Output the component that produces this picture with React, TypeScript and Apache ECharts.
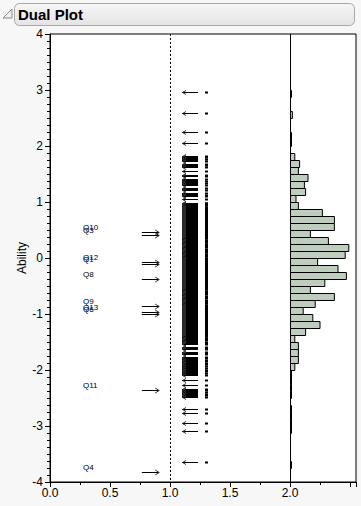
import React, { useEffect, useRef } from "react";
import * as echarts from "echarts";

// ---- data ----
const itemNames = ["Q10", "Q3", "Q12", "Q1", "Q8", "Q9", "Q13", "Q6", "Q11", "Q4"];
const itemDifficulty = [0.45, 0.41, -0.08, -0.12, -0.38, -0.87, -0.97, -1.005, -2.37, -3.83];

const personAbility = [
  2.95, 2.58, 2.24, 2.05,
  1.82, 1.79, 1.76, 1.73, 1.67, 1.65, 1.62, 1.54, 1.48, 1.45, 1.40, 1.36, 1.33,
  1.29, 1.25, 1.21, 1.16, 1.12, 1.10, 1.05,
  0.98, 0.97, 0.95, 0.93, 0.91, 0.90, 0.88, 0.86, 0.84, 0.83, 0.81, 0.79, 0.77,
  0.76, 0.74, 0.72, 0.70, 0.69, 0.67, 0.65, 0.63, 0.62, 0.60, 0.58, 0.56, 0.55,
  0.53, 0.51, 0.49, 0.48, 0.46, 0.44, 0.42, 0.41, 0.39, 0.37, 0.35, 0.34, 0.32,
  0.30, 0.28, 0.27, 0.25, 0.23, 0.21, 0.20, 0.18, 0.16, 0.14, 0.13, 0.11, 0.09,
  0.07, 0.06, 0.04, 0.02, 0.00, -0.01, -0.03, -0.05, -0.07, -0.08, -0.10, -0.12,
  -0.14, -0.15, -0.17, -0.19, -0.21, -0.22, -0.24, -0.26, -0.28, -0.29, -0.31,
  -0.33, -0.35, -0.36, -0.38, -0.40, -0.42, -0.43, -0.45, -0.47, -0.49, -0.50,
  -0.52, -0.54, -0.56, -0.57, -0.59, -0.61, -0.63, -0.64, -0.66, -0.68, -0.70,
  -0.71, -0.73, -0.75, -0.77, -0.78, -0.80, -0.82, -0.84, -0.85, -0.87, -0.89,
  -0.91, -0.92, -0.94, -0.96, -0.98, -0.99, -1.01, -1.03, -1.05, -1.06, -1.08,
  -1.10, -1.12, -1.13, -1.15, -1.17, -1.19, -1.20, -1.22, -1.24, -1.26, -1.27,
  -1.29, -1.31, -1.33, -1.34, -1.36, -1.38, -1.40, -1.41, -1.43, -1.45, -1.47,
  -1.50, -1.53, -1.55, -1.59, -1.61, -1.64, -1.68, -1.71, -1.73, -1.77, -1.80,
  -1.83, -1.85, -1.88, -1.90, -1.93, -1.97, -2.00, -2.03, -2.06, -2.09,
  -2.18, -2.27, -2.34, -2.37, -2.40, -2.43, -2.46, -2.49,
  -2.70, -2.77, -2.95, -3.10, -3.66,
];

// histogram: counts per 0.125-wide bin, from the bin starting at -3.75 upward
const histStart = -3.75;
const histBinWidth = 0.125;
const histCountUnit = 0.01; // x-axis units per count
const histCounts = [
  1, 0, 0, 0, 0, 1, 1, 1, 1, 0,
  1, 1, 1, 1, 4, 7, 7, 7, 4, 13,
  25, 19, 11, 21, 37, 17, 29, 47, 40, 23,
  46, 49, 32, 17, 37, 37, 27, 7, 5, 13,
  12, 15, 7, 8, 4, 0, 1, 1, 0, 0,
  2, 0, 0, 1,
];

const xTickLabels = ["0.0", "0.5", "1.0", "1.5", "2.0"];
const yTickLabels = ["-4", "-3", "-2", "-1", "0", "1", "2", "3", "4"];
const referenceLines = [1, 2];

const FONT = "Liberation Sans";

export default function App() {
  const ref = useRef<HTMLDivElement>(null);

  useEffect(() => {
    if (!ref.current) return;
    const chart = echarts.init(ref.current, undefined, { renderer: "svg" });

    const crisp = (v: number) => Math.round(v - 0.5) + 0.5;

    const option: any = {
      animation: false,
      color: ["#000"],
      backgroundColor: "transparent",
      graphic: [
        {
          type: "rect",
          shape: { x: 14.5, y: 3.5, width: 340, height: 22, r: 5 },
          style: {
            fill: new echarts.graphic.LinearGradient(0, 0, 0, 1, [
              { offset: 0, color: "#f6f6f6" },
              { offset: 1, color: "#e4e4e4" },
            ]),
            stroke: "#a8a8a8",
            lineWidth: 1,
          },
          z: 10,
        },
        {
          type: "polygon",
          shape: { points: [[3, 18], [12, 18], [12, 9]] },
          style: { fill: "#f0f0f0", stroke: "#8a8a8a", lineWidth: 1 },
          z: 10,
        },
        {
          type: "text",
          x: 18,
          y: 14.5,
          style: {
            text: "Dual Plot",
            fontFamily: FONT,
            fontWeight: "bold",
            fontSize: 15,
            fill: "#000",
            verticalAlign: "middle",
            align: "left",
          },
          z: 11,
        },
      ],
      grid: {
        left: 50,
        top: 34,
        width: 306,
        height: 448,
        show: true,
        backgroundColor: "#ffffff",
        borderColor: "#000",
        borderWidth: 1,
      },
      xAxis: {
        type: "value",
        min: 0,
        max: 2.55,
        interval: 0.5,
        axisLine: { show: true, onZero: false, lineStyle: { color: "#000", width: 1 } },
        axisTick: { show: true, length: 5, lineStyle: { color: "#000" } },
        minorTick: { show: true, splitNumber: 2, length: 3, lineStyle: { color: "#000" } },
        splitLine: { show: false },
        axisLabel: {
          margin: 5,
          color: "#000",
          fontFamily: FONT,
          fontSize: 12,
          showMaxLabel: false,
          formatter: (v: number) => {
            const s = v.toFixed(1);
            return xTickLabels.includes(s) && Math.abs(v - parseFloat(s)) < 1e-6 ? s : "";
          },
        },
      },
      yAxis: {
        type: "value",
        min: -4,
        max: 4,
        interval: 1,
        name: "Ability",
        nameLocation: "middle",
        nameGap: 22,
        nameMoveOverlap: false,
        nameRotate: 90,
        nameTextStyle: { color: "#000", fontFamily: FONT, fontSize: 12 },
        axisLine: { show: true, onZero: false, lineStyle: { color: "#000", width: 1 } },
        axisTick: { show: true, length: 5, lineStyle: { color: "#000" } },
        minorTick: { show: true, splitNumber: 8, length: 3, lineStyle: { color: "#000" } },
        splitLine: { show: false },
        axisLabel: {
          margin: 7,
          color: "#000",
          fontFamily: FONT,
          fontSize: 12,
          formatter: (v: number) => {
            const s = String(Math.round(v));
            return yTickLabels.includes(s) && Math.abs(v - Math.round(v)) < 1e-6 ? s : "";
          },
        },
      },
      series: [
        {
          type: "custom",
          name: "refLines",
          silent: true,
          data: referenceLines.map((x) => [x, 0]),
          renderItem: (params: any, api: any) => {
            const x = api.value(0);
            const top = api.coord([x, 4]);
            const bot = api.coord([x, -4]);
            const px = crisp(top[0]);
            return {
              type: "line",
              shape: { x1: px, y1: top[1], x2: px, y2: bot[1] },
              style: {
                stroke: "#000",
                lineWidth: 1,
                lineDash: x === 1 ? [2, 2] : null,
              },
            };
          },
          z: 2,
        },
        {
          type: "custom",
          name: "histogram",
          silent: true,
          data: histCounts.map((c, i) => [c, histStart + i * histBinWidth]).filter((d) => d[0] > 0),
          renderItem: (params: any, api: any) => {
            const c = api.value(0);
            const lo = api.value(1);
            const p1 = api.coord([2, lo + histBinWidth]);
            const p2 = api.coord([2 + c * histCountUnit, lo]);
            const x0 = crisp(p1[0]);
            const y0 = crisp(p1[1]);
            const y1 = crisp(p2[1]);
            return {
              type: "rect",
              shape: { x: x0, y: y0, width: Math.max(1, p2[0] - x0), height: y1 - y0 },
              style: { fill: "#bfcdbf", stroke: "#000", lineWidth: 1 },
            };
          },
          z: 3,
        },
        {
          type: "custom",
          name: "items",
          silent: true,
          data: itemDifficulty.map((d) => [0.91, d]),
          renderItem: (params: any, api: any) => {
            const d = api.value(1);
            const tip = api.coord([0.91, d]);
            const tail = api.coord([0.765, d]);
            const lab = api.coord([0.275, d]);
            const y = crisp(tip[1]);
            return {
              type: "group",
              children: [
                {
                  type: "line",
                  shape: { x1: tail[0], y1: y, x2: tip[0], y2: y },
                  style: { stroke: "#000", lineWidth: 1 },
                },
                {
                  type: "polyline",
                  shape: { points: [[tip[0] - 4, y - 2.5], [tip[0], y], [tip[0] - 4, y + 2.5]] },
                  style: { stroke: "#333", fill: null, lineWidth: 1 },
                },
                {
                  type: "text",
                  x: lab[0],
                  y: lab[1] - 5,
                  style: {
                    text: itemNames[params.dataIndex],
                    fontFamily: FONT,
                    fontSize: 8,
                    fill: "#000",
                    stroke: null,
                    align: "left",
                    verticalAlign: "middle",
                  },
                },
              ],
            };
          },
          z: 4,
        },
        {
          type: "custom",
          name: "persons",
          silent: true,
          data: personAbility.map((a) => [1.1, a]),
          renderItem: (params: any, api: any) => {
            const i = params.dataIndex;
            const a = api.value(1);
            const tip = api.coord([1.1, a]);
            const tail = api.coord([1.235, a]);
            const dot = api.coord([1.3, a]);
            const yTop = Math.floor(tip[1]);
            let h = 1;
            if (i + 1 < personAbility.length) {
              const nextY = Math.floor(api.coord([1.1, personAbility[i + 1]])[1]);
              const gap = nextY - yTop;
              if (gap >= 1 && gap <= 2) h = gap;
            }
            const yc = yTop + 0.5;
            const x0 = Math.round(tip[0]);
            const x1 = Math.round(tail[0]);
            return {
              type: "group",
              children: [
                {
                  type: "rect",
                  shape: { x: x0, y: yTop, width: x1 - x0, height: h },
                  style: { fill: "#000" },
                },
                {
                  type: "polyline",
                  shape: { points: [[x0 + 4, yc - 2], [x0 + 0.5, yc], [x0 + 4, yc + 2]] },
                  style: { stroke: "#333", fill: null, lineWidth: 1 },
                },
                {
                  type: "rect",
                  shape: { x: Math.round(dot[0]) - 1, y: yTop - 0.5, width: 3, height: Math.max(2, h) },
                  style: { fill: "#000" },
                },
              ],
            };
          },
          z: 4,
        },
      ],
    };

    chart.setOption(option);
    return () => chart.dispose();
  }, []);

  return (
    <div
      style={{
        position: "fixed",
        left: 0,
        top: 0,
        width: 361,
        height: 506,
        background: "#f7f7f7",
      }}
    >
      <div ref={ref} style={{ width: 361, height: 506 }} />
    </div>
  );
}
